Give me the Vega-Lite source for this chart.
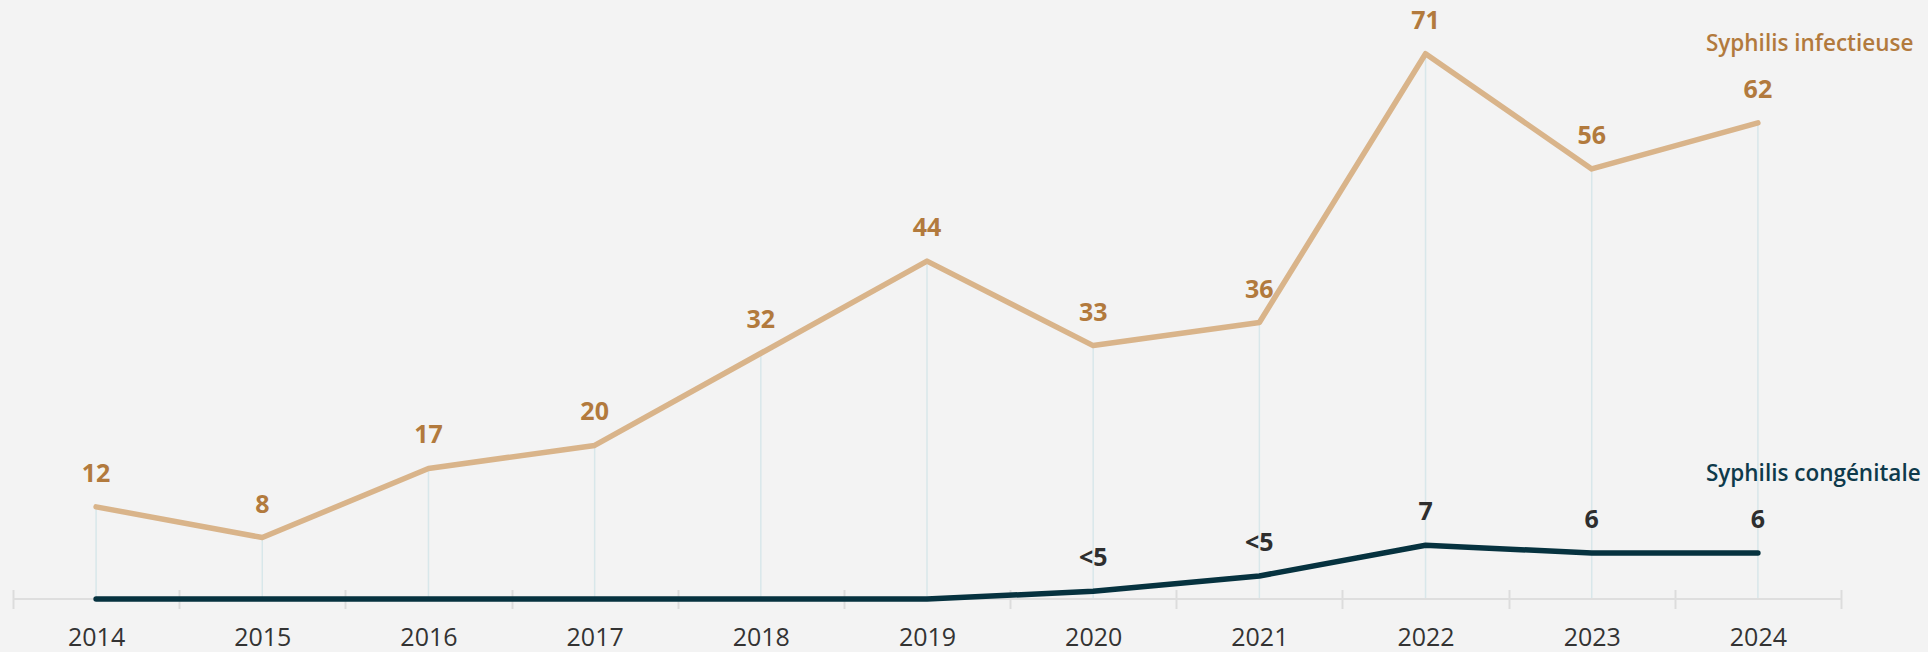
{
  "$schema": "https://vega.github.io/schema/vega-lite/v6.json",
  "width": 1828,
  "height": 599,
  "autosize": {"type": "none"},
  "padding": {"left": 13, "top": 0, "right": 87, "bottom": 53},
  "background": "#f3f3f3",
  "config": {"view": {"stroke": null}, "font": "Open Sans"},
  "data": {
    "values": [
      {"year": "2014", "series": "Syphilis infectieuse", "value": 12, "label": "12"},
      {"year": "2015", "series": "Syphilis infectieuse", "value": 8, "label": "8"},
      {"year": "2016", "series": "Syphilis infectieuse", "value": 17, "label": "17"},
      {"year": "2017", "series": "Syphilis infectieuse", "value": 20, "label": "20"},
      {"year": "2018", "series": "Syphilis infectieuse", "value": 32, "label": "32"},
      {"year": "2019", "series": "Syphilis infectieuse", "value": 44, "label": "44"},
      {"year": "2020", "series": "Syphilis infectieuse", "value": 33, "label": "33"},
      {"year": "2021", "series": "Syphilis infectieuse", "value": 36, "label": "36"},
      {"year": "2022", "series": "Syphilis infectieuse", "value": 71, "label": "71"},
      {"year": "2023", "series": "Syphilis infectieuse", "value": 56, "label": "56"},
      {"year": "2024", "series": "Syphilis infectieuse", "value": 62, "label": "62"},
      {"year": "2014", "series": "Syphilis congénitale", "value": 0, "label": ""},
      {"year": "2015", "series": "Syphilis congénitale", "value": 0, "label": ""},
      {"year": "2016", "series": "Syphilis congénitale", "value": 0, "label": ""},
      {"year": "2017", "series": "Syphilis congénitale", "value": 0, "label": ""},
      {"year": "2018", "series": "Syphilis congénitale", "value": 0, "label": ""},
      {"year": "2019", "series": "Syphilis congénitale", "value": 0, "label": ""},
      {"year": "2020", "series": "Syphilis congénitale", "value": 1, "label": "<5"},
      {"year": "2021", "series": "Syphilis congénitale", "value": 3, "label": "<5"},
      {"year": "2022", "series": "Syphilis congénitale", "value": 7, "label": "7"},
      {"year": "2023", "series": "Syphilis congénitale", "value": 6, "label": "6"},
      {"year": "2024", "series": "Syphilis congénitale", "value": 6, "label": "6"}
    ]
  },
  "encoding": {
    "x": {
      "field": "year",
      "type": "ordinal",
      "scale": {"type": "band", "paddingInner": 0, "paddingOuter": 0},
      "axis": {
        "title": null,
        "domain": false,
        "grid": false,
        "labelAngle": 0,
        "labelFont": "Open Sans",
        "labelFontSize": 25,
        "labelColor": "#333333",
        "ticks": true,
        "tickBand": "extent",
        "tickSize": 19,
        "tickColor": "#dcdcdc",
        "tickWidth": 2,
        "offset": -9.5,
        "labelPadding": 17
      }
    }
  },
  "layer": [
    {
      "transform": [{"filter": "datum.series === 'Syphilis infectieuse'"}],
      "mark": {"type": "rule", "color": "#d8e7ea", "strokeWidth": 1.5},
      "encoding": {
        "y": {"field": "value", "type": "quantitative", "scale": {"domain": [0, 78], "nice": false}, "axis": null},
        "y2": {"datum": 0}
      }
    },
    {
      "transform": [{"filter": "datum.series === 'Syphilis infectieuse' && datum.year === '2014'"}],
      "mark": {"type": "rule", "color": "#dedede", "strokeWidth": 2},
      "encoding": {"x": null, "y": {"datum": 0, "type": "quantitative"}}
    },
    {
      "mark": {"type": "line", "strokeWidth": 5.5, "strokeCap": "round", "strokeJoin": "round"},
      "encoding": {
        "y": {"field": "value", "type": "quantitative"},
        "color": {
          "field": "series",
          "type": "nominal",
          "scale": {"domain": ["Syphilis infectieuse", "Syphilis congénitale"], "range": ["#d9b48a", "#06323f"]},
          "legend": null
        },
        "order": {"field": "year"}
      }
    },
    {
      "transform": [{"filter": "datum.series === 'Syphilis infectieuse'"}],
      "mark": {"type": "text", "dy": -25, "baseline": "alphabetic", "align": "center", "fontSize": 25, "fontWeight": "bold", "color": "#b27a3d"},
      "encoding": {"y": {"field": "value", "type": "quantitative"}, "text": {"field": "label"}}
    },
    {
      "transform": [{"filter": "datum.series === 'Syphilis congénitale' && datum.label !== ''"}],
      "mark": {"type": "text", "dy": -25, "baseline": "alphabetic", "align": "center", "fontSize": 25, "fontWeight": "bold", "color": "#2e2e2e"},
      "encoding": {"y": {"field": "value", "type": "quantitative"}, "text": {"field": "label"}}
    },
    {
      "transform": [{"filter": "datum.year === '2024'"}],
      "mark": {"type": "text", "dx": -52, "dy": -72, "baseline": "alphabetic", "align": "left", "fontSize": 22.5, "fontWeight": 600},
      "encoding": {
        "y": {"field": "value", "type": "quantitative"},
        "text": {"field": "series"},
        "color": {"field": "series", "type": "nominal", "scale": {"domain": ["Syphilis infectieuse", "Syphilis congénitale"], "range": ["#b27a3d", "#0e3a4b"]}, "legend": null}
      }
    }
  ],
  "resolve": {"scale": {"color": "independent"}}
}
